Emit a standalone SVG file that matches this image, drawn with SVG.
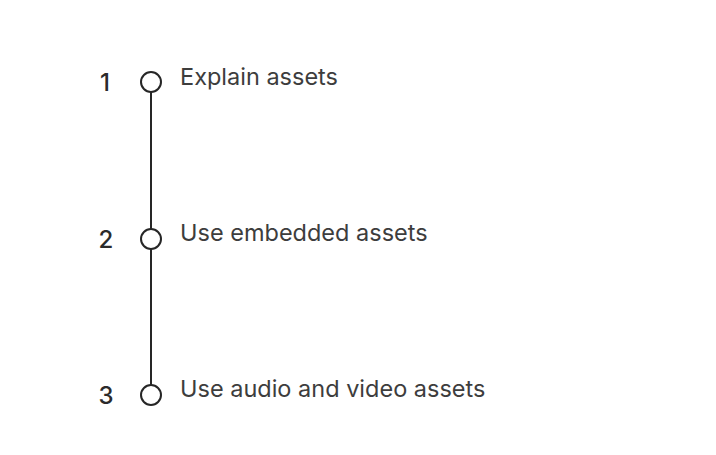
<svg xmlns="http://www.w3.org/2000/svg" width="716" height="455" viewBox="0 0 716 455">
<style>
.num{font-family:Inter,"Liberation Sans",sans-serif;font-size:24px;font-weight:500;fill:#2b2b2b;text-anchor:middle}
.lbl{font-family:Inter,"Liberation Sans",sans-serif;font-size:23.5px;fill:#3d3d3d}
.dot{fill:#fff;stroke:#262626;stroke-width:2}
.ln{stroke:#262626;stroke-width:2;fill:none}
</style>
<rect width="716" height="455" fill="#fff"/>
<g id="connectors">
<line class="ln" x1="151" y1="92" x2="151" y2="229"/>
<line class="ln" x1="151" y1="249" x2="151" y2="385"/>
</g>
<g id="step1">
<text class="num" x="105" y="91">1</text>
<circle class="dot" cx="151" cy="82" r="10"/>
<text class="lbl" x="180" y="85">Explain assets</text>
</g>
<g id="step2">
<text class="num" x="106" y="248">2</text>
<circle class="dot" cx="151" cy="239" r="10"/>
<text class="lbl" x="180" y="241">Use embedded assets</text>
</g>
<g id="step3">
<text class="num" x="106" y="404">3</text>
<circle class="dot" cx="151" cy="395" r="10"/>
<text class="lbl" x="180" y="397">Use audio and video assets</text>
</g>
</svg>
